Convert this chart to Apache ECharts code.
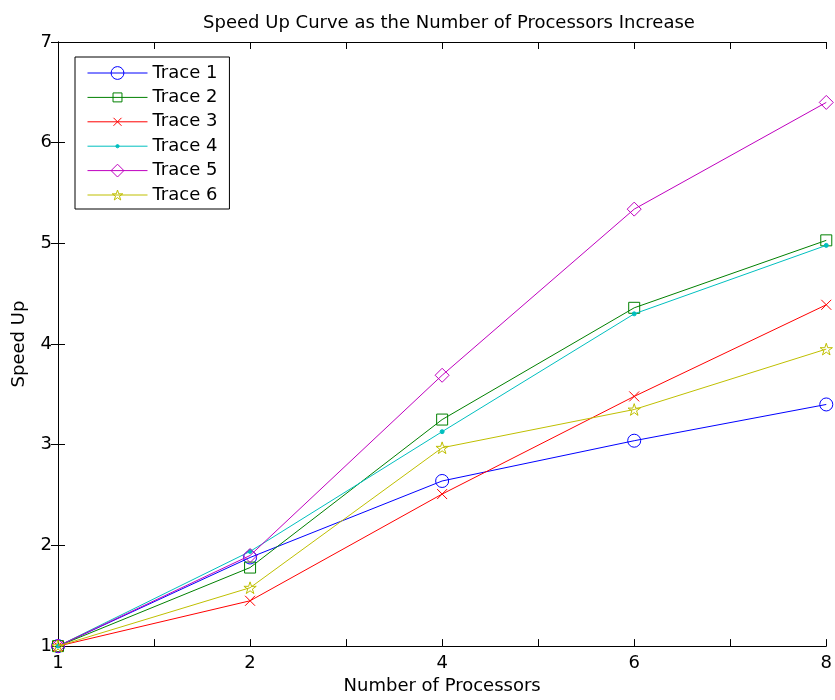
<!DOCTYPE html>
<html>
<head>
<meta charset="utf-8">
<script src="https://cdn.jsdelivr.net/npm/echarts@6/dist/echarts.min.js"></script>
<style>html,body{margin:0;padding:0;background:#fff}#c{width:835px;height:700px}</style>
</head>
<body>
<div id="c"></div>
<script>
const processors = [1, 2, 4, 6, 8];
const xTickLabels = ['1', '', '2', '', '4', '', '6', '', '8'];
const yTicks = [1, 2, 3, 4, 5, 6, 7];
const traceNames = ['Trace 1', 'Trace 2', 'Trace 3', 'Trace 4', 'Trace 5', 'Trace 6'];
const trace1 = [1, 1.88, 2.64, 3.04, 3.40];
const trace2 = [1, 1.78, 3.25, 4.36, 5.03];
const trace3 = [1, 1.45, 2.51, 3.48, 4.39];
const trace4 = [1, 1.94, 3.13, 4.30, 4.98];
const trace5 = [1, 1.90, 3.69, 5.34, 6.40];
const trace6 = [1, 1.58, 2.97, 3.35, 3.95];

const traces = [trace1, trace2, trace3, trace4, trace5, trace6];
const colors = ['#0000ff', '#008000', '#ff0000', '#00bfbf', '#bf00bf', '#bfbf00'];
const FONT = 'DejaVu Sans';

// marker shapes; padded boxes keep the legend marks (drawn in one fixed box) at their true relative size
const squarePath = 'path://M0,0 M20,20 M3,3 L17,3 L17,17 L3,17 Z';
const crossPath = 'path://M0,0 M16,16 M3,3 L13,13 M13,3 L3,13';
const dotPath = 'path://M0,0 M16,16 M6,8 A2,2 0 1,0 10,8 A2,2 0 1,0 6,8 Z';
const starPath = 'path://M0,0 M116,116 M58,12.75 L69.2,47.25 L105.6,47.25 L76.2,68.65 L87.4,103.25 L58,81.85 L28.6,103.25 L39.8,68.65 L10.4,47.25 L46.8,47.25 Z';
const symbols = ['circle', squarePath, crossPath, dotPath, 'diamond', starPath];
const sizes = [13, 15.7, 16, 16, 14, 15];

const posOf = p => xTickLabels.indexOf(String(p));

const series = traces.map((t, i) => ({
  name: traceNames[i],
  type: 'line',
  data: t.map((v, j) => [posOf(processors[j]), v]),
  symbol: symbols[i],
  symbolSize: sizes[i],
  showAllSymbol: true,
  lineStyle: { color: colors[i], width: 1 },
  itemStyle: i === 3
    ? { color: colors[i], borderColor: colors[i], borderWidth: 1 }
    : { color: 'rgba(255,255,255,0)', borderColor: colors[i], borderWidth: 1 },
  emphasis: { disabled: true },
  z: 2 + i
}));

const axisCommon = {
  type: 'value',
  axisLine: { show: true, lineStyle: { color: '#000', width: 1 } },
  axisTick: { show: true, inside: true, length: 7, lineStyle: { color: '#000' } },
  splitLine: { show: false }
};

const chart = echarts.init(document.getElementById('c'), null, { renderer: 'canvas' });
chart.setOption({
  animation: false,
  backgroundColor: '#fff',
  color: colors,
  title: {
    text: 'Speed Up Curve as the Number of Processors Increase',
    left: 444, top: 9, textAlign: 'center',
    textStyle: { fontFamily: FONT, fontSize: 18, fontWeight: 'normal', color: '#000' }
  },
  legend: {
    orient: 'vertical', left: 75, top: 57,
    backgroundColor: '#fff', borderColor: '#000', borderWidth: 1, borderRadius: 0,
    padding: [7, 12, 5, 12],
    itemWidth: 60, itemHeight: 16, itemGap: 6.4,
    lineStyle: { width: 1 },
    itemStyle: { borderWidth: 1 },
    textStyle: { fontFamily: FONT, fontSize: 18, color: '#000' },
    data: traceNames
  },
  grid: { left: 58, right: 5, top: 42, bottom: 53, containLabel: false },
  xAxis: [
    Object.assign({}, axisCommon, {
      min: 0, max: xTickLabels.length - 1, interval: 1, position: 'bottom',
      name: 'Number of Processors', nameLocation: 'middle', nameGap: 30,
      nameTextStyle: { fontFamily: FONT, fontSize: 18, color: '#000' },
      axisLabel: { margin: 8, fontFamily: FONT, fontSize: 18, color: '#000',
        formatter: v => xTickLabels[v] || '' }
    }),
    Object.assign({}, axisCommon, {
      min: 0, max: xTickLabels.length - 1, interval: 1, position: 'top',
      axisLabel: { show: false }
    })
  ],
  yAxis: [
    Object.assign({}, axisCommon, {
      min: yTicks[0], max: yTicks[yTicks.length - 1], interval: 1, position: 'left',
      name: 'Speed Up', nameLocation: 'middle', nameGap: 30,
      nameTextStyle: { fontFamily: FONT, fontSize: 18, color: '#000' },
      axisLabel: { margin: 6, fontFamily: FONT, fontSize: 18, color: '#000' }
    }),
    Object.assign({}, axisCommon, {
      min: yTicks[0], max: yTicks[yTicks.length - 1], interval: 1, position: 'right',
      axisLabel: { show: false }
    })
  ],
  series: series
});
</script>
</body>
</html>
